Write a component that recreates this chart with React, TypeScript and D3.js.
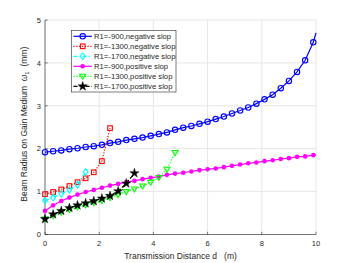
import React from "react";
import * as d3 from "d3";

// x grid of the markers (m)
const xGrid = [0, 0.3, 0.6, 0.9, 1.2, 1.5, 1.8, 2.1, 2.4, 2.7, 3.0, 3.3, 3.6, 3.9, 4.2, 4.5, 4.8,
  5.1, 5.4, 5.7, 6.0, 6.3, 6.6, 6.9, 7.2, 7.5, 7.8, 8.1, 8.4, 8.7, 9.0, 9.3, 9.6, 9.9];

const blueY = [1.92, 1.94, 1.96, 1.99, 2.01, 2.04, 2.06, 2.09, 2.13, 2.16, 2.2, 2.23, 2.26, 2.3, 2.34, 2.38, 2.44,
  2.49, 2.53, 2.58, 2.63, 2.69, 2.75, 2.82, 2.89, 2.96, 3.05, 3.15, 3.26, 3.41, 3.58, 3.79, 4.06, 4.48];
const blueEnd = 4.7;
const redY = [0.94, 0.99, 1.05, 1.13, 1.22, 1.31, 1.45, 1.71, 2.48];
const cyanY = [0.79, 0.86, 0.95, 1.04, 1.16, 1.46];
const magentaY = [0.55, 0.68, 0.78, 0.86, 0.93, 0.99, 1.04, 1.09, 1.14, 1.18, 1.22, 1.25, 1.29, 1.32, 1.35, 1.39, 1.42,
  1.44, 1.47, 1.5, 1.52, 1.54, 1.57, 1.6, 1.63, 1.66, 1.68, 1.71, 1.73, 1.76, 1.78, 1.81, 1.82, 1.85];
const magentaEnd = 1.86;
const greenY = [0.36, 0.44, 0.52, 0.58, 0.64, 0.69, 0.74, 0.79, 0.86, 0.93, 1.0, 1.06, 1.13, 1.22, 1.33, 1.52, 1.91];
const blackY = [0.36, 0.47, 0.55, 0.62, 0.68, 0.73, 0.78, 0.84, 0.9, 1.01, 1.19, 1.43];

const xTicks = [0, 2, 4, 6, 8, 10];
const yTicks = [0, 1, 2, 3, 4, 5];

const series = [
  { name: "R1=-900,negative slop", color: "#0000ff", dash: "", marker: "circle", y: blueY, end: blueEnd },
  { name: "R1=-1300,negative slop", color: "#ff0000", dash: "1.2,1.6", marker: "square", y: redY },
  { name: "R1=-1700,negative slop", color: "#00ffff", dash: "4,2,1.2,2", marker: "diamond", y: cyanY },
  { name: "R1=-900,positive slop", color: "#ff00ff", dash: "", marker: "dot", y: magentaY, end: magentaEnd },
  { name: "R1=-1300,positive slop", color: "#00ff00", dash: "1.2,1.6", marker: "triangle", y: greenY },
  { name: "R1=-1700,positive slop", color: "#000000", dash: "4,2", marker: "star", y: blackY },
];

const W = 350, H = 263;
const m = { left: 45, right: 34, top: 20, bottom: 28.5 };

function Marker({ kind, x, y, color }: { kind: string; x: number; y: number; color: string }) {
  const sw = 1.1;
  if (kind === "circle") return <circle cx={x} cy={y} r={2.7} fill="none" stroke={color} strokeWidth={sw} />;
  if (kind === "dot") return <circle cx={x} cy={y} r={2.3} fill={color} />;
  if (kind === "square") return <rect x={x - 2.3} y={y - 2.3} width={4.6} height={4.6} fill="none" stroke={color} strokeWidth={sw} />;
  if (kind === "diamond")
    return <path d={`M${x},${y - 3.3}L${x + 2.4},${y}L${x},${y + 3.3}L${x - 2.4},${y}Z`} fill="none" stroke={color} strokeWidth={sw} />;
  if (kind === "triangle")
    return <path d={`M${x - 3},${y - 2}L${x + 3},${y - 2}L${x},${y + 3}Z`} fill="none" stroke={color} strokeWidth={sw} />;
  const star = d3.symbol(d3.symbolStar, 27)();
  return <path d={star || ""} transform={`translate(${x},${y})`} fill={color} stroke={color} strokeWidth={0.4} />;
}

export default function App() {
  const x = d3.scaleLinear().domain([0, 10]).range([m.left, W - m.right]);
  const y = d3.scaleLinear().domain([0, 5]).range([H - m.bottom, m.top]);
  const line = d3.line<[number, number]>().x((d) => x(d[0])).y((d) => y(d[1]));
  const font = "'Liberation Sans', Arial, Helvetica, sans-serif";
  const axisColor = "#262626";

  return (
    <svg width={W} height={H} style={{ position: "absolute", left: 0, top: 0, background: "#fff" }} fontFamily={font}>
      {/* grid */}
      {xTicks.map((t) => (
        <line key={"gx" + t} x1={x(t)} x2={x(t)} y1={y(0)} y2={y(5)} stroke="#e6e6e6" strokeWidth={1} />
      ))}
      {yTicks.map((t) => (
        <line key={"gy" + t} x1={x(0)} x2={x(10)} y1={y(t)} y2={y(t)} stroke="#e6e6e6" strokeWidth={1} />
      ))}
      {/* axes */}
      <line x1={x(0)} x2={x(0)} y1={y(0)} y2={y(5)} stroke={axisColor} strokeWidth={0.6} />
      <line x1={x(0)} x2={x(10)} y1={y(0)} y2={y(0)} stroke={axisColor} strokeWidth={0.6} />
      {xTicks.map((t) => (
        <g key={"tx" + t}>
          <line x1={x(t)} x2={x(t)} y1={y(0)} y2={y(0) - 2.7} stroke={axisColor} strokeWidth={0.6} />
          <text x={x(t)} y={y(0) + 11} fontSize={7.5} fill={axisColor} textAnchor="middle">{t}</text>
        </g>
      ))}
      {yTicks.map((t) => (
        <g key={"ty" + t}>
          <line x1={x(0)} x2={x(0) + 2.7} y1={y(t)} y2={y(t)} stroke={axisColor} strokeWidth={0.6} />
          <text x={x(0) - 4} y={y(t) + 2.7} fontSize={7.5} fill={axisColor} textAnchor="end">{t}</text>
        </g>
      ))}
      <text x={(x(0) + x(10)) / 2} y={259} fontSize={8.5} fill={axisColor} textAnchor="middle">
        Transmission Distance d{"\u00a0\u00a0\u00a0"}(m)
      </text>
      <text transform={`translate(27,${(y(0) + y(5)) / 2 - 3}) rotate(-90)`} fontSize={8.5} fill={axisColor} textAnchor="middle">
        Beam Radius on Gain Medium{"\u00a0\u00a0"}
        <tspan fontStyle="italic">ω</tspan>
        <tspan fontSize={6} dy={2}>1</tspan>
        <tspan dy={-2}>{"\u00a0\u00a0"}(mm)</tspan>
      </text>
      {/* series */}
      {series.map((s) => {
        const pts: [number, number][] = s.y.map((v, i) => [xGrid[i], v]);
        const linePts = s.end !== undefined ? [...pts, [10, s.end] as [number, number]] : pts;
        return (
          <g key={s.name}>
            <path d={line(linePts) || ""} fill="none" stroke={s.color} strokeWidth={1.2} strokeDasharray={s.dash} />
            {pts.map((p, i) => (
              <Marker key={i} kind={s.marker} x={x(p[0])} y={y(p[1])} color={s.color} />
            ))}
          </g>
        );
      })}
      {/* legend */}
      <rect x={71.5} y={30.5} width={104.5} height={61.5} fill="#fff" stroke={axisColor} strokeWidth={0.6} />
      {series.map((s, i) => {
        const ly = 36.3 + i * 10;
        return (
          <g key={"lg" + s.name}>
            <line x1={73.5} x2={92} y1={ly} y2={ly} stroke={s.color} strokeWidth={1.2} strokeDasharray={s.dash} />
            <Marker kind={s.marker} x={82.7} y={ly} color={s.color} />
            <text x={94} y={ly + 2.7} fontSize={7.7} fill={axisColor}>{s.name}</text>
          </g>
        );
      })}
    </svg>
  );
}
